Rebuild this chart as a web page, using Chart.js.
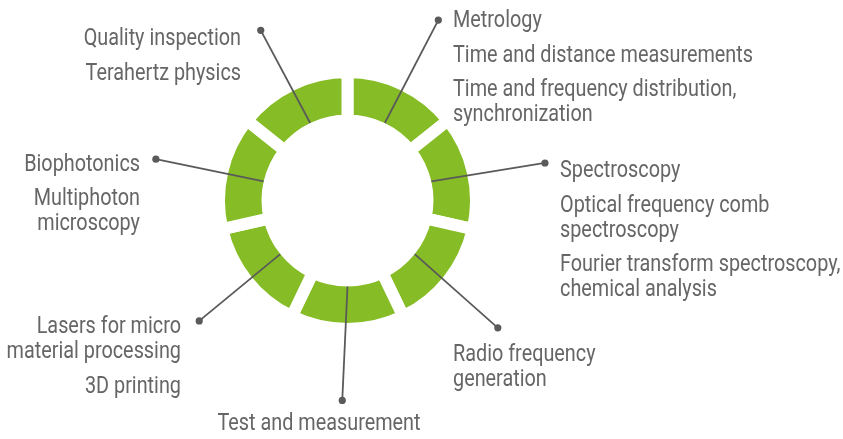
<!DOCTYPE html>
<html>
<head>
<meta charset="utf-8">
<title>Applications ring</title>
<script src="https://cdn.jsdelivr.net/npm/chart.js@4.4.1/dist/chart.umd.min.js"></script>
<style>
  html, body { margin: 0; padding: 0; background: #fff; }
  #wrap { width: 843px; height: 439px; position: relative; }
</style>
</head>
<body>
<div id="wrap"><canvas id="chart"></canvas></div>
<script>
/* ── Data ─────────────────────────────────────────── */
const categories = [
  'Metrology',
  'Spectroscopy',
  'Radio frequency generation',
  'Test and measurement',
  'Lasers for micro material processing',
  'Biophotonics',
  'Quality inspection'
];
const shares = [1, 1, 1, 1, 1, 1, 1];

// label text per segment: items, each item split into its wrapped lines
const labelLines = [
  [['Metrology'], ['Time and distance measurements'], ['Time and frequency distribution,', 'synchronization']],
  [['Spectroscopy'], ['Optical frequency comb', 'spectroscopy'], ['Fourier transform spectroscopy,', 'chemical analysis']],
  [['Radio frequency', 'generation']],
  [['Test and measurement']],
  [['Lasers for micro', 'material processing'], ['3D printing']],
  [['Biophotonics'], ['Multiphoton', 'microscopy']],
  [['Quality inspection'], ['Terahertz physics']]
];

/* ── Layout / style ───────────────────────────────── */
const GREEN = '#86bc25';
const TEXT = '#666666';
const LINE = '#5a5a5a';
const GAP = 12;            // white gap between segments
const ITEM_STEP = 34.5, WRAP_STEP = 25;

// dAngle: callout tilt vs segment middle (deg), r: dot distance, x/y: first baseline
const callouts = [
  { dAngle: 1.0,  r: 202, x: 453, y: 27,  align: 'left' },
  { dAngle: 2.1,  r: 201, x: 560, y: 177, align: 'left' },
  { dAngle: 1.7,  r: 197, x: 453, y: 361, align: 'left' },
  { dAngle: 1.5,  r: 200, x: 319, y: 430, align: 'center' },
  { dAngle: -0.5, r: 191, x: 181, y: 333, align: 'right' },
  { dAngle: -0.7, r: 196, x: 140, y: 170.5, align: 'right' },
  { dAngle: -1.3, r: 191, x: 241, y: 45,  align: 'right' }
];

const calloutPlugin = {
  id: 'callouts',
  afterDatasetsDraw(chart) {
    const ctx = chart.ctx;
    const arcs = chart.getDatasetMeta(0).data;
    ctx.save();
    // condensed look: taller type squeezed to the measured line width
    ctx.font = '23.5px Roboto';
    const sx = 300 / ctx.measureText('Time and distance measurements').width;

    arcs.forEach((arc, i) => {
      const c = callouts[i];
      const { x, y, startAngle, endAngle, innerRadius } =
        arc.getProps(['x', 'y', 'startAngle', 'endAngle', 'innerRadius'], true);
      const mid = (startAngle + endAngle) / 2;
      const a2 = mid + c.dAngle * Math.PI / 180;
      const r0 = innerRadius + GAP / 2;
      const x1 = x + Math.cos(mid) * r0, y1 = y + Math.sin(mid) * r0;
      const x2 = x + Math.cos(a2) * c.r, y2 = y + Math.sin(a2) * c.r;

      ctx.strokeStyle = LINE;
      ctx.lineWidth = 1.8;
      ctx.beginPath();
      ctx.moveTo(x1, y1);
      ctx.lineTo(x2, y2);
      ctx.stroke();
      ctx.fillStyle = LINE;
      ctx.beginPath();
      ctx.arc(x2, y2, 3.6, 0, Math.PI * 2);
      ctx.fill();

      // label lines
      ctx.fillStyle = TEXT;
      ctx.textAlign = c.align;
      ctx.textBaseline = 'alphabetic';
      let yy = c.y;
      labelLines[i].forEach((item, k) => {
        if (k > 0) yy += ITEM_STEP;
        item.forEach((line, j) => {
          if (j > 0) yy += WRAP_STEP;
          ctx.save();
          ctx.translate(c.x, yy);
          ctx.scale(sx, 1);
          ctx.fillText(line, 0, 0);
          ctx.restore();
        });
      });
    });
    ctx.restore();
  }
};

/* ── Chart ────────────────────────────────────────── */
new Chart(document.getElementById('chart'), {
  type: 'doughnut',
  data: {
    labels: categories,
    datasets: [{
      data: shares,
      backgroundColor: GREEN,
      borderColor: '#ffffff',
      borderWidth: GAP,
      hoverBorderWidth: GAP
    }]
  },
  options: {
    responsive: true,
    maintainAspectRatio: false,
    animation: false,
    events: [],
    radius: 128.5,
    cutout: '62.26%',
    layout: { padding: { left: 0, right: 148, top: 0, bottom: 38 } },
    plugins: { legend: { display: false }, tooltip: { enabled: false } }
  },
  plugins: [calloutPlugin]
});
</script>
</body>
</html>
